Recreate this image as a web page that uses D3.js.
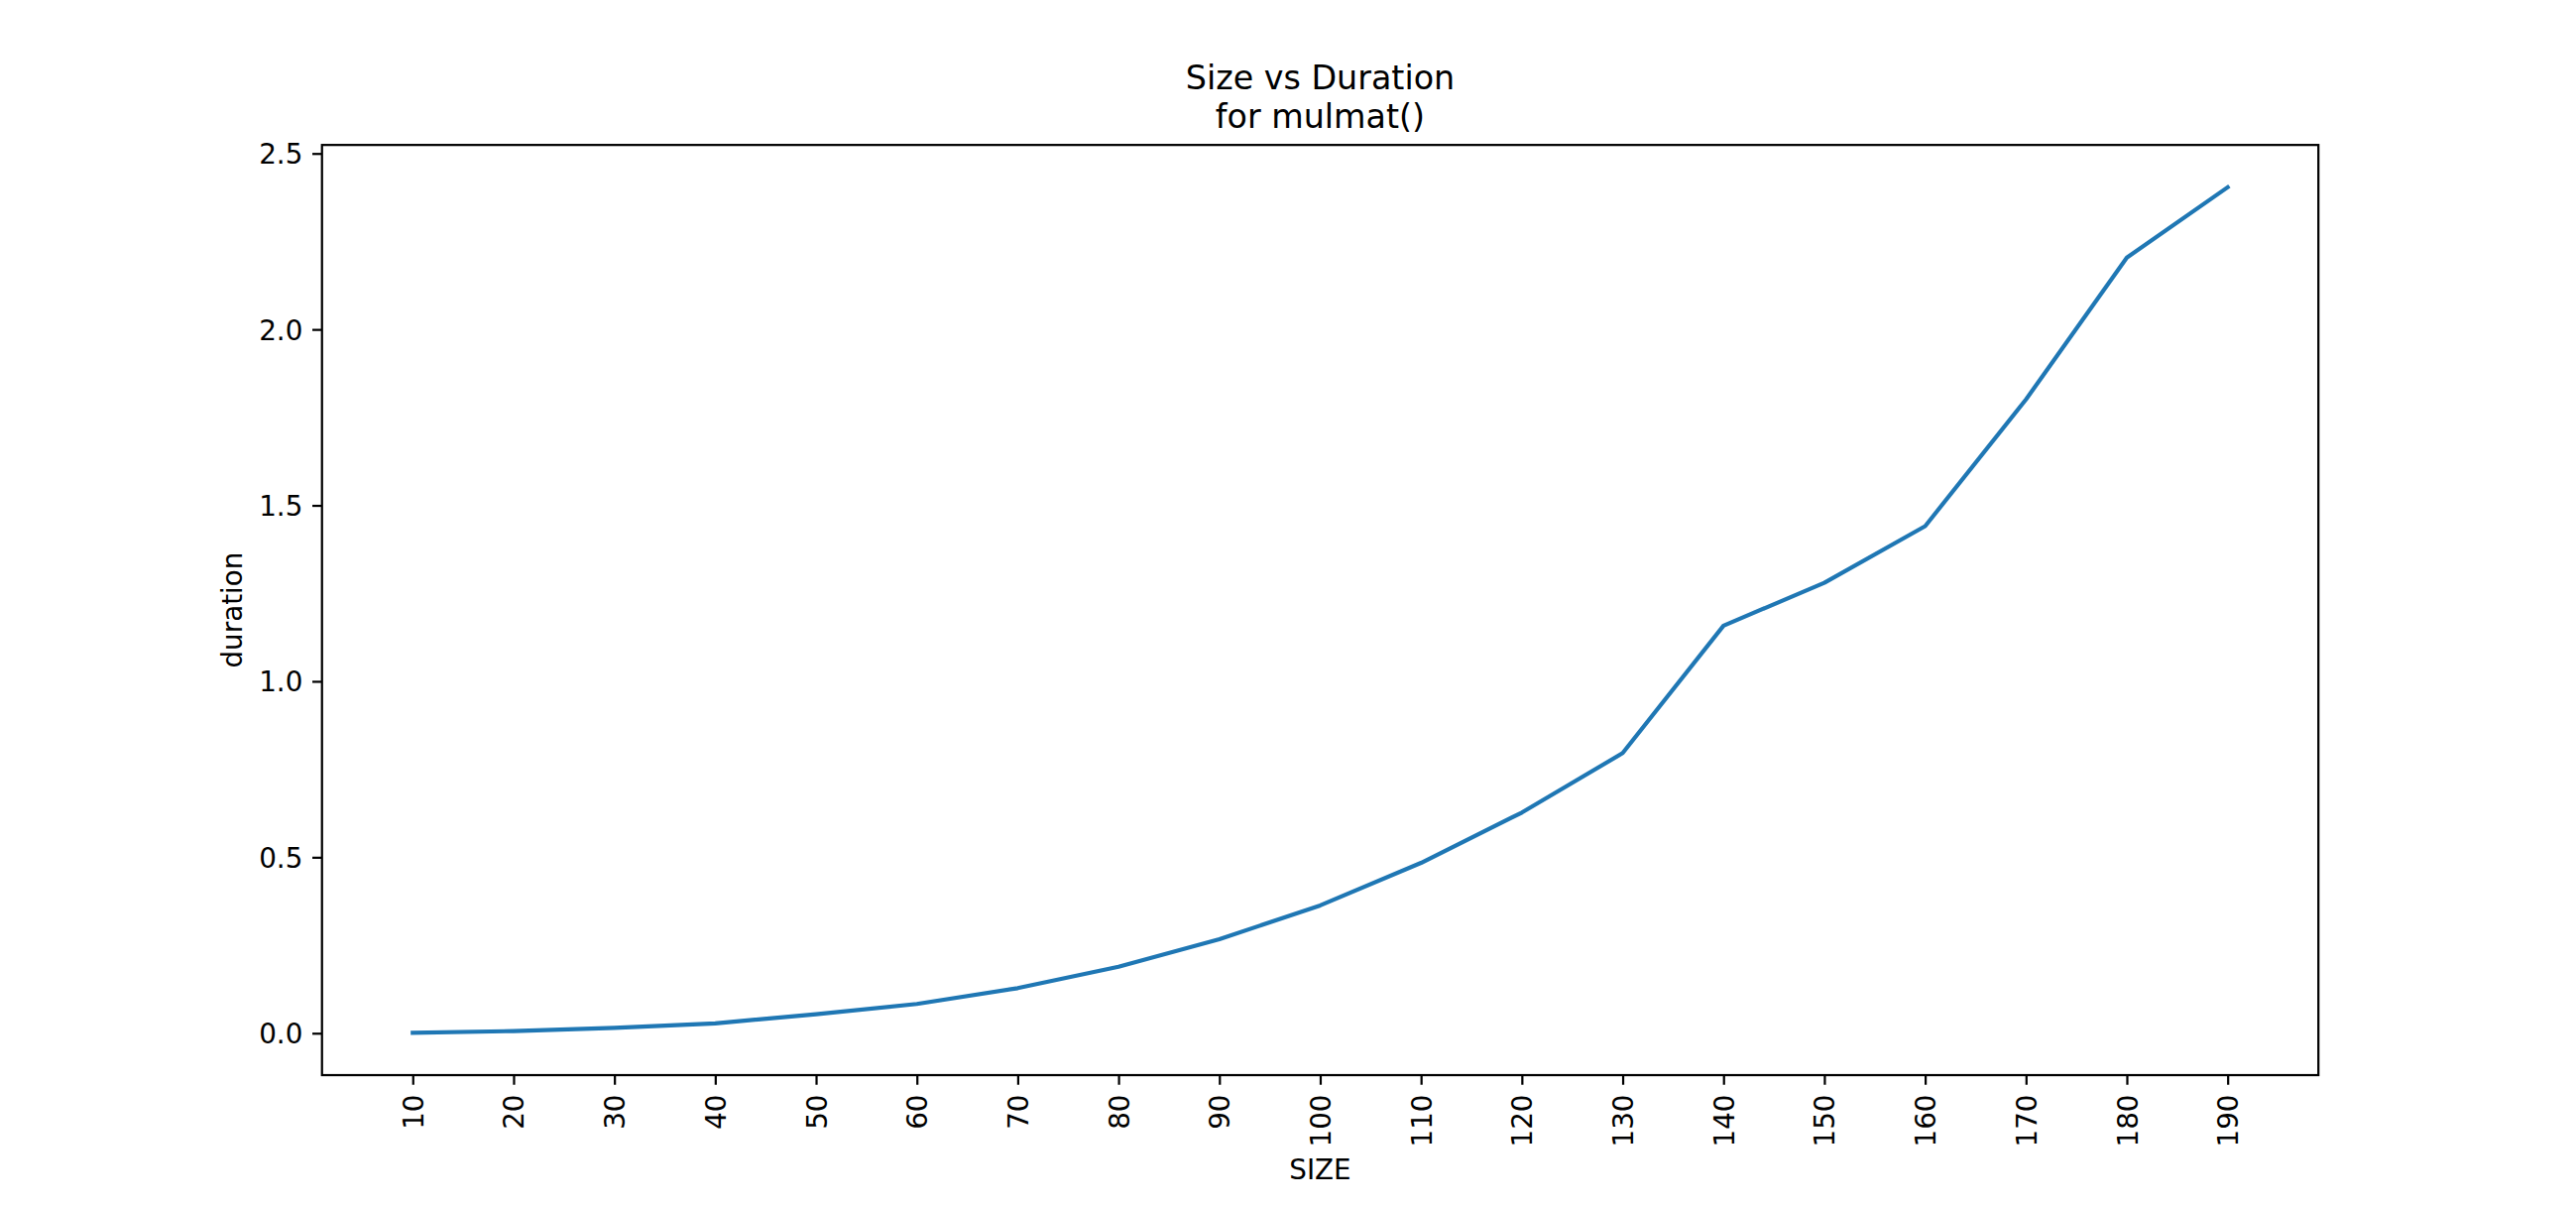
<!DOCTYPE html>
<html>
<head>
<meta charset="utf-8">
<script src="https://cdn.jsdelivr.net/npm/d3@7"></script>
<style>
  html, body { margin: 0; padding: 0; background: #ffffff; }
  svg { display: block; }
  text { font-family: "DejaVu Sans", sans-serif; fill: #000; }
</style>
</head>
<body>
<div id="chart"></div>
<script>
// ---- data ----
const sizes = [10, 20, 30, 40, 50, 60, 70, 80, 90, 100, 110, 120, 130, 140, 150, 160, 170, 180, 190];
const durations = [0.001, 0.006, 0.015, 0.028, 0.054, 0.083, 0.128, 0.189, 0.267, 0.363, 0.484, 0.627, 0.796, 1.158, 1.280, 1.441, 1.801, 2.204, 2.404];
const xTickValues = [10, 20, 30, 40, 50, 60, 70, 80, 90, 100, 110, 120, 130, 140, 150, 160, 170, 180, 190];
const yTickValues = [0.0, 0.5, 1.0, 1.5, 2.0, 2.5];
const titleLines = ["Size vs Duration", "for mulmat()"];
const xLabel = "SIZE";
const yLabel = "duration";

(function () {
// ---- layout ----
const W = 2598, H = 1218;
const dpi = 200, pt = dpi / 72;
const mLeft = 0.125 * W, mRight = 0.9 * W, mTop = (1 - 0.88) * H, mBottom = (1 - 0.11) * H;
const tickLen = 3.5 * pt, tickPad = 3.5 * pt;
const tickFont = 10 * pt, titleFont = 12 * pt;

const svg = d3.select("#chart").append("svg").attr("width", W).attr("height", H);
svg.append("rect").attr("width", W).attr("height", H).attr("fill", "#fff");

// matplotlib-like 5% margins
const xmin = d3.min(sizes), xmax = d3.max(sizes);
const ymin = d3.min(durations), ymax = d3.max(durations);
const xr = xmax - xmin, yr = ymax - ymin;
const x = d3.scaleLinear().domain([xmin - 0.05 * xr, xmax + 0.05 * xr]).range([mLeft, mRight]);
const y = d3.scaleLinear().domain([ymin - 0.05 * yr, ymax + 0.05 * yr]).range([mBottom, mTop]);

// line
const line = d3.line().x((d, i) => x(sizes[i])).y(d => y(d));
svg.append("path")
  .datum(durations)
  .attr("d", line)
  .attr("fill", "none")
  .attr("stroke", "#1f77b4")
  .attr("stroke-width", 1.5 * pt)
  .attr("stroke-linejoin", "round")
  .attr("stroke-linecap", "square");

// x axis
const xAxis = svg.append("g")
  .attr("transform", `translate(0,${mBottom})`)
  .call(d3.axisBottom(x).tickValues(xTickValues).tickFormat(d3.format("d")).tickSize(tickLen).tickSizeOuter(0));
xAxis.select(".domain").remove();
xAxis.selectAll(".tick line").attr("stroke", "#000").attr("stroke-width", 0.8 * pt);
xAxis.selectAll(".tick text")
  .attr("font-size", tickFont)
  .attr("font-family", "DejaVu Sans")
  .attr("fill", "#000")
  .attr("transform", "rotate(-90)")
  .attr("text-anchor", "end")
  .attr("x", -(tickLen + tickPad))
  .attr("y", 0)
  .attr("dy", "0.36em");

// y axis
const yAxis = svg.append("g")
  .attr("transform", `translate(${mLeft},0)`)
  .call(d3.axisLeft(y).tickValues(yTickValues).tickFormat(d3.format(".1f")).tickSize(tickLen).tickSizeOuter(0));
yAxis.select(".domain").remove();
yAxis.selectAll(".tick line").attr("stroke", "#000").attr("stroke-width", 0.8 * pt);
yAxis.selectAll(".tick text")
  .attr("font-size", tickFont)
  .attr("font-family", "DejaVu Sans")
  .attr("fill", "#000")
  .attr("x", -(tickLen + tickPad))
  .attr("dy", "0.36em");

// frame (spines)
svg.append("rect")
  .attr("x", mLeft).attr("y", mTop)
  .attr("width", mRight - mLeft).attr("height", mBottom - mTop)
  .attr("fill", "none").attr("stroke", "#000").attr("stroke-width", 0.8 * pt)
  .attr("stroke-linejoin", "miter");

// title
const cx = (mLeft + mRight) / 2;
const title = svg.append("text")
  .attr("text-anchor", "middle")
  .attr("font-size", titleFont);
title.selectAll("tspan").data(titleLines).enter().append("tspan")
  .attr("x", cx)
  .attr("y", (d, i) => 90 + i * 39.3)
  .text(d => d);

// axis labels
svg.append("text")
  .attr("x", cx).attr("y", 1189)
  .attr("text-anchor", "middle")
  .attr("font-size", tickFont)
  .text(xLabel);

svg.append("text")
  .attr("transform", `translate(244,${(mTop + mBottom) / 2}) rotate(-90)`)
  .attr("text-anchor", "middle")
  .attr("font-size", tickFont)
  .text(yLabel);
})();
</script>
</body>
</html>
